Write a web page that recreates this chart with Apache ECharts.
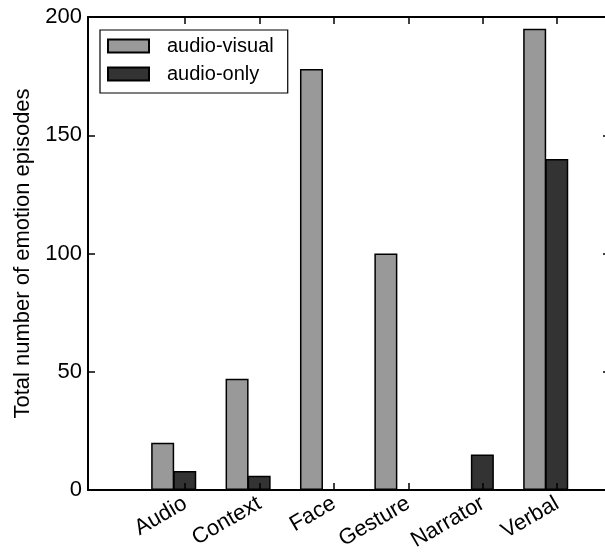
<!DOCTYPE html>
<html>
<head>
<meta charset="utf-8">
<script src="https://cdn.jsdelivr.net/npm/echarts@6/dist/echarts.min.js"></script>
<style>
html,body{margin:0;padding:0;background:#fff;overflow:hidden;}
#chart{width:605px;height:552px;}
</style>
</head>
<body>
<div id="chart"></div>
<script>
const categories = ['Audio', 'Context', 'Face', 'Gesture', 'Narrator', 'Verbal'];
const audioVisual = [20, 47, 178, 100, 0, 195];
const audioOnly = [8, 6, 0, 0, 15, 140];
const yTicks = [0, 50, 100, 150, 200];
const seriesNames = ['audio-visual', 'audio-only'];

const FONT = '"Liberation Sans", Arial, sans-serif';
const BAR_W = 23;
const UNIT_PX = 74.4;
const tickPos = categories.map((_, i) => i + (BAR_W / 2) / UNIT_PX);
const xMin = -1.152, xMax = 5.864;

const chart = echarts.init(document.getElementById('chart'), null, {renderer: 'canvas'});

const xCommon = {
  type: 'value', min: xMin, max: xMax,
  splitLine: {show: false},
  axisLine: {show: true, onZero: false, lineStyle: {color: '#000', width: 2}},
  z: 5
};
const yCommon = {
  type: 'value', min: 0, max: 200, interval: 50,
  splitLine: {show: false},
  axisLine: {show: true, onZero: false, lineStyle: {color: '#000', width: 2}},
  axisTick: {show: true, inside: true, length: 7, lineStyle: {color: '#000', width: 1.5}},
  z: 5
};

chart.setOption({
  animation: false,
  backgroundColor: '#fff',
  grid: {left: 88, width: 522, top: 17, bottom: 62, containLabel: false, outerBoundsMode: 'none'},
  legend: {
    orient: 'vertical',
    left: 100, top: 30,
    data: seriesNames,
    itemWidth: 41, itemHeight: 13,
    itemGap: 8,
    padding: [6, 14, 9, 7],
    borderColor: '#000', borderWidth: 1.2,
    backgroundColor: '#fff',
    icon: 'rect',
    textStyle: {fontFamily: FONT, fontSize: 20, color: '#000', padding: [0, 0, 0, 13]}
  },
  xAxis: [
    Object.assign({}, xCommon, {
      position: 'bottom',
      axisTick: {show: true, inside: true, length: 7, lineStyle: {color: '#000', width: 1.5}, customValues: tickPos},
      axisLabel: {
        show: true, rotate: 30, fontFamily: FONT, fontSize: 22, color: '#000', margin: 12,
        customValues: tickPos,
        formatter: (v) => {
          const i = tickPos.findIndex(t => Math.abs(t - v) < 1e-6);
          return i >= 0 ? categories[i] : '';
        }
      }
    }),
    Object.assign({}, xCommon, {
      position: 'top',
      axisTick: {show: true, inside: true, length: 7, lineStyle: {color: '#000', width: 1.5}, customValues: tickPos},
      axisLabel: {show: false}
    })
  ],
  yAxis: [
    Object.assign({}, yCommon, {
      position: 'left',
      name: 'Total number of emotion episodes',
      nameLocation: 'middle',
      nameGap: 48,
      nameTextStyle: {fontFamily: FONT, fontSize: 22, color: '#000'},
      axisLabel: {show: true, fontFamily: FONT, fontSize: 22, color: '#000', margin: 6,
        customValues: yTicks}
    }),
    Object.assign({}, yCommon, {
      position: 'right',
      axisLabel: {show: false}
    })
  ],
  series: [
    {
      name: seriesNames[0], type: 'bar', xAxisIndex: 0, yAxisIndex: 0,
      barWidth: BAR_W, barGap: '-4%',
      itemStyle: {color: '#999999', borderColor: '#000', borderWidth: 1.5},
      data: categories.map((_, i) => [i, audioVisual[i]])
    },
    {
      name: seriesNames[1], type: 'bar', xAxisIndex: 0, yAxisIndex: 0,
      barWidth: BAR_W, barGap: '-4%',
      itemStyle: {color: '#333333', borderColor: '#000', borderWidth: 1.5},
      data: categories.map((_, i) => [i, audioOnly[i]])
    }
  ]
});
</script>
</body>
</html>
